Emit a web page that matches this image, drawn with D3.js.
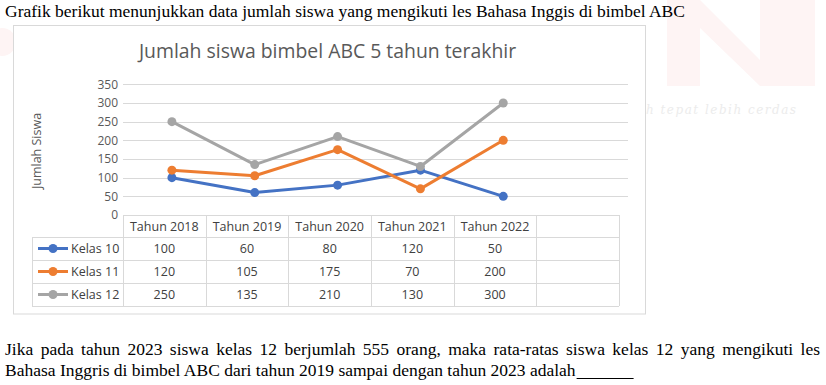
<!DOCTYPE html>
<html>
<head>
<meta charset="utf-8">
<script src="https://cdn.jsdelivr.net/npm/d3@7"></script>
<style>
  body { margin: 0; background: #fff; }
  svg { display: block; }
</style>
</head>
<body>
<svg></svg>
<script>
// data
const years = ["Tahun 2018", "Tahun 2019", "Tahun 2020", "Tahun 2021", "Tahun 2022"];
const seriesNames = ["Kelas 10", "Kelas 11", "Kelas 12"];
const kelas10 = [100, 60, 80, 120, 50];
const kelas11 = [120, 105, 175, 70, 200];
const kelas12 = [250, 135, 210, 130, 300];
const yTicks = [0, 50, 100, 150, 200, 250, 300, 350];
const colors = ["#4472C4", "#ED7D31", "#A5A5A5"];

const series = seriesNames.map((name, i) => ({
    name: name,
    color: colors[i],
    values: [kelas10, kelas11, kelas12][i]
}));

const W = 826, H = 385;
const svg = d3.select("svg")
    .attr("width", W)
    .attr("height", H);

const font = "'Open Sans', Lato, sans-serif";
const serif = "'Liberation Serif', 'Times New Roman', serif";

// faint watermark in the background
const wm = svg.append("g");
wm.append("path")
    .attr("d", "M667,0 L700,0 L760,60 L760,0 L815,0 L815,86 L760,86 L700,28 L700,86 L667,86 Z")
    .attr("fill", "#fef4f4");
wm.append("ellipse")
    .attr("cx", 2).attr("cy", 42).attr("rx", 14).attr("ry", 14)
    .attr("fill", "#fef4f4");
wm.append("text")
    .attr("x", 646).attr("y", 114)
    .style("font-family", "'DejaVu Serif', serif")
    .style("font-style", "italic")
    .style("font-size", "12px")
    .style("letter-spacing", "1.5px")
    .attr("fill", "#ececec")
    .text("h tepat  lebih cerdas");

// question text
svg.append("text")
    .attr("x", 5).attr("y", 17)
    .style("font-family", serif)
    .style("font-size", "17.5px")
    .attr("fill", "#000")
    .text("Grafik berikut menunjukkan data jumlah siswa yang mengikuti les Bahasa Inggis di bimbel ABC");

// chart box
const box = {x: 13.5, y: 25.5, w: 632, h: 288.5};
svg.append("rect")
    .attr("x", box.x).attr("y", box.y)
    .attr("width", box.w).attr("height", box.h)
    .attr("fill", "#fff")
    .attr("stroke", "#d9d9d9");

svg.append("text")
    .attr("x", box.x + box.w / 2 - 2)
    .attr("y", 58)
    .attr("text-anchor", "middle")
    .style("font-family", font)
    .style("font-size", "19.4px")
    .attr("fill", "#595959")
    .text("Jumlah siswa bimbel ABC 5 tahun terakhir");

// scales
const plotLeft = 123, plotRight = 628;
const cats = years.concat([""]);
const xScale = d3.scaleBand()
    .domain(cats)
    .range([130.5, 627.5]);
const colScale = d3.scaleBand()
    .domain(cats)
    .range([123, 619]);
const yScale = d3.scaleLinear()
    .domain([0, 350])
    .range([215, 84.3]);

// gridlines
svg.append("g")
    .selectAll("line")
    .data(yTicks.filter(d => d > 0))
    .enter().append("line")
    .attr("x1", plotLeft).attr("x2", plotRight)
    .attr("y1", d => Math.round(yScale(d)) + 0.5)
    .attr("y2", d => Math.round(yScale(d)) + 0.5)
    .attr("stroke", "#d9d9d9");

// y axis labels
const yAxis = svg.append("g")
    .attr("transform", "translate(" + plotLeft + ",0)")
    .call(d3.axisLeft(yScale).tickValues(yTicks).tickSize(0).tickPadding(5));
yAxis.select(".domain").remove();
yAxis.selectAll("text")
    .style("font-family", font)
    .style("font-size", "12px")
    .attr("fill", "#595959");

svg.append("text")
    .attr("transform", "translate(41,151) rotate(-90)")
    .attr("text-anchor", "middle")
    .style("font-family", font)
    .style("font-size", "12.5px")
    .attr("fill", "#595959")
    .text("Jumlah Siswa");

// lines and markers
const line = d3.line()
    .x((d, i) => xScale(years[i]) + xScale.bandwidth() / 2)
    .y(d => yScale(d));

const sg = svg.append("g")
    .selectAll("g")
    .data(series)
    .enter().append("g");

sg.append("path")
    .attr("d", d => line(d.values))
    .attr("fill", "none")
    .attr("stroke", d => d.color)
    .attr("stroke-width", 3)
    .attr("stroke-linejoin", "round");

sg.selectAll("circle")
    .data(d => d.values.map(v => ({v: v, color: d.color})))
    .enter().append("circle")
    .attr("cx", (d, i) => xScale(years[i]) + xScale.bandwidth() / 2)
    .attr("cy", d => yScale(d.v))
    .attr("r", 4.5)
    .attr("fill", d => d.color);

// data table
const rowEdges = [215, 237, 260, 283, 306];
const legLeft = 32;
const tbl = svg.append("g")
    .attr("stroke", "#d9d9d9")
    .attr("fill", "none");

rowEdges.forEach((y, i) => {
    tbl.append("line")
        .attr("x1", i === 0 ? 123 : legLeft).attr("x2", 619)
        .attr("y1", y + 0.5).attr("y2", y + 0.5);
});
cats.forEach(c => {
    tbl.append("line")
        .attr("x1", Math.round(colScale(c)) + 0.5).attr("x2", Math.round(colScale(c)) + 0.5)
        .attr("y1", 215).attr("y2", 306);
});
tbl.append("line")
    .attr("x1", 619.5).attr("x2", 619.5)
    .attr("y1", 215).attr("y2", 306);
tbl.append("line")
    .attr("x1", legLeft + 0.5).attr("x2", legLeft + 0.5)
    .attr("y1", 237).attr("y2", 306);

const cellText = (sel) => sel
    .style("font-family", font)
    .style("font-size", "12.5px")
    .attr("fill", "#404040");

svg.append("g")
    .selectAll("text")
    .data(years)
    .enter().append("text")
    .attr("x", d => colScale(d) + colScale.bandwidth() / 2)
    .attr("y", 231)
    .attr("text-anchor", "middle")
    .call(cellText)
    .text(d => d);

series.forEach((s, r) => {
    const cy = (rowEdges[r + 1] + rowEdges[r + 2]) / 2;
    svg.append("line")
        .attr("x1", 38).attr("x2", 68)
        .attr("y1", cy).attr("y2", cy)
        .attr("stroke", s.color)
        .attr("stroke-width", 3);
    svg.append("circle")
        .attr("cx", 53).attr("cy", cy).attr("r", 4.5)
        .attr("fill", s.color);
    svg.append("text")
        .attr("x", 71).attr("y", cy + 4.5)
        .call(cellText)
        .text(s.name);
    svg.append("g")
        .selectAll("text")
        .data(s.values)
        .enter().append("text")
        .attr("x", (d, i) => colScale(years[i]) + colScale.bandwidth() / 2)
        .attr("y", cy + 4.5)
        .attr("text-anchor", "middle")
        .call(cellText)
        .text(d => d);
});

// question text below, first line justified
const line1 = "Jika pada tahun 2023 siswa kelas 12 berjumlah 555 orang, maka rata-ratas siswa kelas 12 yang mengikuti les".split(" ");
const qx0 = 5, qx1 = 820;
const words = svg.append("g")
    .selectAll("text")
    .data(line1)
    .enter().append("text")
    .attr("y", 355)
    .style("font-family", serif)
    .style("font-size", "17.5px")
    .attr("fill", "#000")
    .text(d => d);
const widths = [];
words.each(function() { widths.push(this.getComputedTextLength()); });
const gap = (qx1 - qx0 - d3.sum(widths)) / (line1.length - 1);
let cx = qx0;
words.attr("x", (d, i) => { const x = cx; cx += widths[i] + gap; return x; });

const l2 = svg.append("text")
    .attr("x", 5).attr("y", 376)
    .style("font-family", serif)
    .style("font-size", "17.5px")
    .attr("fill", "#000")
    .text("Bahasa Inggris di bimbel ABC dari tahun 2019 sampai dengan tahun 2023 adalah ");
const l2w = l2.node().getComputedTextLength();
svg.append("line")
    .attr("x1", 5 + l2w + 1).attr("x2", 5 + l2w + 58)
    .attr("y1", 378.5).attr("y2", 378.5)
    .attr("stroke", "#000")
    .attr("stroke-width", 1);
</script>
</body>
</html>
